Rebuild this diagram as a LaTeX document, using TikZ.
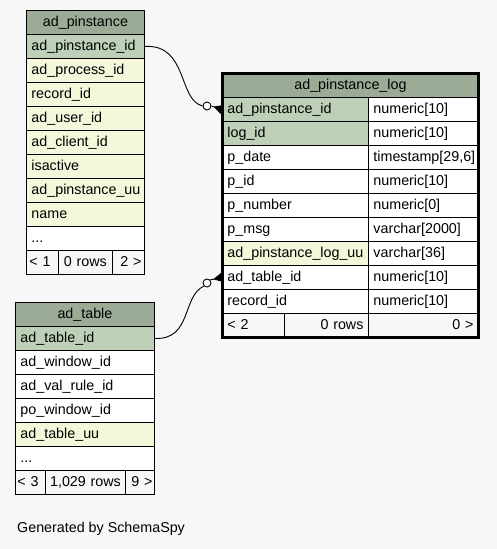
\documentclass[tikz,border=0pt]{standalone}
\usepackage{fontspec}
\setmainfont{Liberation Sans}
\definecolor{sphead}{HTML}{9BAB96}
\definecolor{sppk}{HTML}{BED1B8}
\definecolor{spidx}{HTML}{F4F7DA}
\definecolor{spbg}{HTML}{F7F7F7}
\usetikzlibrary{arrows.meta,positioning}
\newcommand{\spfont}{\fontsize{14.3}{16}\selectfont}
\tikzset{
  cell/.style={draw=black, line width=0.9pt, rectangle, anchor=north west, minimum height=24pt,
    inner xsep=5pt, inner ysep=0pt, text height=10.5pt, text depth=3pt, align=left, font=\spfont},
  hdrcell/.style={cell, fill=sphead, align=center},
  pkcell/.style={cell, fill=sppk},
  idxcell/.style={cell, fill=spidx},
  plaincell/.style={cell, fill=white},
  footcell/.style={cell, fill=spbg},
  relline/.style={line width=0.9pt, black},
  crowdot/.style={circle, draw=black, line width=0.9pt, fill=white, minimum size=8pt, inner sep=0pt}
}
\begin{document}
\begin{tikzpicture}[x=1pt, y=-1pt]
  \fill[spbg] (0,0) rectangle (497,549);
  \useasboundingbox (0,0) rectangle (497,549);

  %--- ad_pinstance ---
  \node[hdrcell, text width=108pt] (pinhdr) at (26,10) {ad\_pinstance};
  \node[pkcell, text width=108pt] (pinid) at (26,34) {ad\_pinstance\_id};
  \node[idxcell, text width=108pt] (pinproc) at (26,58) {ad\_process\_id};
  \node[idxcell, text width=108pt] (pinrec) at (26,82) {record\_id};
  \node[idxcell, text width=108pt] (pinuser) at (26,106) {ad\_user\_id};
  \node[idxcell, text width=108pt] (pinclient) at (26,130) {ad\_client\_id};
  \node[idxcell, text width=108pt] (pinactive) at (26,154) {isactive};
  \node[idxcell, text width=108pt] (pinuu) at (26,178) {ad\_pinstance\_uu};
  \node[idxcell, text width=108pt] (pinname) at (26,202) {name};
  \node[plaincell, text width=108pt] (pinmore) at (26,226) {...};
  \node[footcell, text width=26pt, inner xsep=3pt] (pinfa) at (26,250) {< 1};
  \node[footcell, text width=48pt, inner xsep=3pt, align=center] (pinfb) at (58,250) {0 rows};
  \node[footcell, text width=26pt, inner xsep=3pt, align=right] (pinfc) at (112,250) {2 >};

  %--- ad_pinstance_log ---
  \node[hdrcell, text width=246pt] (loghdr) at (222,73) {ad\_pinstance\_log};
  \node[pkcell, text width=136pt] (logpin) at (222,97) {ad\_pinstance\_id};
  \node[plaincell, text width=100pt] at (368,97) {numeric[10]};
  \node[pkcell, text width=136pt] (logid) at (222,121) {log\_id};
  \node[plaincell, text width=100pt] at (368,121) {numeric[10]};
  \node[plaincell, text width=136pt] (logdate) at (222,145) {p\_date};
  \node[plaincell, text width=100pt] at (368,145) {timestamp[29,6]};
  \node[plaincell, text width=136pt] (logpid) at (222,169) {p\_id};
  \node[plaincell, text width=100pt] at (368,169) {numeric[10]};
  \node[plaincell, text width=136pt] (lognum) at (222,193) {p\_number};
  \node[plaincell, text width=100pt] at (368,193) {numeric[0]};
  \node[plaincell, text width=136pt] (logmsg) at (222,217) {p\_msg};
  \node[plaincell, text width=100pt] at (368,217) {varchar[2000]};
  \node[idxcell, text width=136pt] (loguu) at (222,241) {ad\_pinstance\_log\_uu};
  \node[plaincell, text width=100pt] at (368,241) {varchar[36]};
  \node[plaincell, text width=136pt] (logtab) at (222,265) {ad\_table\_id};
  \node[plaincell, text width=100pt] at (368,265) {numeric[10]};
  \node[plaincell, text width=136pt] (logrec) at (222,289) {record\_id};
  \node[plaincell, text width=100pt] at (368,289) {numeric[10]};
  \node[footcell, text width=52pt] (logfa) at (222,313) {< 2};
  \node[footcell, text width=74pt, align=right] (logfb) at (284,313) {0 rows};
  \node[footcell, text width=100pt, align=right] (logfc) at (368,313) {0 >};
  \draw[line width=3pt] (loghdr.north west) rectangle (logfc.south east);

  %--- ad_table ---
  \node[hdrcell, text width=129pt] (tabhdr) at (15,302) {ad\_table};
  \node[pkcell, text width=129pt] (tabid) at (15,326) {ad\_table\_id};
  \node[plaincell, text width=129pt] (tabwin) at (15,350) {ad\_window\_id};
  \node[plaincell, text width=129pt] (tabrule) at (15,374) {ad\_val\_rule\_id};
  \node[plaincell, text width=129pt] (tabpo) at (15,398) {po\_window\_id};
  \node[idxcell, text width=129pt] (tabuu) at (15,422) {ad\_table\_uu};
  \node[plaincell, text width=129pt] (tabmore) at (15,446) {...};
  \node[footcell, text width=26pt, inner xsep=2pt] (tabfa) at (15,470) {< 3};
  \node[footcell, text width=76pt, inner xsep=2pt, align=center] (tabfb) at (45,470) {1,029 rows};
  \node[footcell, text width=25pt, inner xsep=2pt, align=right] (tabfc) at (125,470) {9 >};

  %--- relations ---
  \node[crowdot] (dotpin) at (207,106) {};
  \node[crowdot] (dottab) at (207,283) {};
  \draw[relline] (pinid.east) .. controls (188,44) and (178,100) .. (dotpin.west);
  \draw[relline, -{Triangle[reversed, length=9pt, width=9pt]}] (dotpin.east) -- (logpin.west);
  \draw[relline] (tabid.east) .. controls (192,340) and (182,296) .. (dottab.south west);
  \draw[relline, -{Triangle[reversed, length=9pt, width=9pt]}] (dottab.north east) -- (logtab.west);

  \node[font=\spfont, anchor=west, inner sep=0pt] (gen) at (17,529) {Generated by SchemaSpy};
\end{tikzpicture}
\end{document}
